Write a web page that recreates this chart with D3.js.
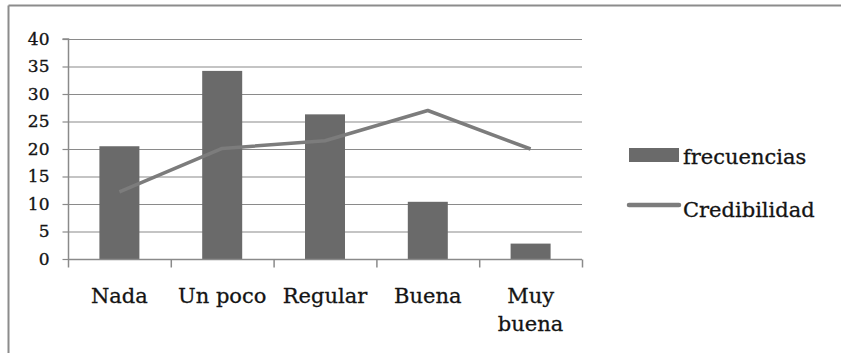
<!DOCTYPE html>
<html><head><meta charset="utf-8">
<script src="https://cdn.jsdelivr.net/npm/d3@7"></script>
<style>body{margin:0;background:#fff}svg{display:block}</style>
</head><body>
<script>
const categories = ["Nada","Un poco","Regular","Buena","Muy buena"];
const frecuencias = [20.5,34.2,26.3,10.4,2.8];
const credibilidad = [12.2,20.1,21.5,27.0,20.0];
const yTicks = [0,5,10,15,20,25,30,35,40];
const seriesNames = ["frecuencias","Credibilidad"];

const W=841,H=353;
const svg=d3.select("body").append("svg").attr("width",W).attr("height",H);
const font="'DejaVu Serif', serif";
const txt="#141414";
// outer frame (top + left)
svg.append("line").attr("x1",8.5).attr("x2",W).attr("y1",5.5).attr("y2",5.5).attr("stroke","#8c8c8c").attr("stroke-width",2);
svg.append("line").attr("x1",8.5).attr("x2",8.5).attr("y1",5.5).attr("y2",H).attr("stroke","#8c8c8c").attr("stroke-width",2);

const L=68,R=582,T=39,B=259;
const x=d3.scaleBand().domain(categories).range([L,R]);
const y=d3.scaleLinear().domain([0,40]).range([B,T]);

// gridlines
svg.append("g").selectAll("line").data(yTicks.filter(d=>d>0)).join("line")
 .attr("x1",L).attr("x2",R).attr("y1",d=>y(d)+0.5).attr("y2",d=>y(d)+0.5)
 .attr("stroke","#8a8a8a").attr("stroke-width",1.2);

// bars
const bw=40;
svg.append("g").selectAll("rect").data(frecuencias).join("rect")
 .attr("x",(d,i)=>x(categories[i])+x.bandwidth()/2-bw/2).attr("width",bw)
 .attr("y",d=>y(d)).attr("height",d=>B-y(d)).attr("fill","#6a6a6a");

// y axis
const ya=svg.append("g").attr("transform",`translate(${L+0.5},0)`)
 .call(d3.axisLeft(y).tickValues(yTicks).tickSize(6).tickPadding(13));
ya.select(".domain").attr("stroke","#8a8a8a").attr("stroke-width",1.5).attr("d",`M-6,${T}H0V${B}`);
ya.selectAll(".tick line").attr("stroke","#8a8a8a").attr("stroke-width",1.2);
ya.selectAll("text").attr("font-family",font).attr("font-size",17).attr("fill",txt)
 .attr("stroke",txt).attr("stroke-width",0.35).attr("text-anchor","end");

// x axis
const xa=svg.append("g").attr("transform",`translate(0,${B+0.5})`);
xa.append("line").attr("x1",L).attr("x2",R).attr("stroke","#8a8a8a").attr("stroke-width",1.5);
const bounds=categories.map(c=>x(c)).concat([R]);
xa.selectAll(".tk").data(bounds).join("line").attr("class","tk")
 .attr("x1",d=>d+0.5).attr("x2",d=>d+0.5).attr("y1",0).attr("y2",8)
 .attr("stroke","#8a8a8a").attr("stroke-width",1.5);
const lbl=svg.append("g");
categories.forEach(c=>{
  const words = c==="Muy buena" ? ["Muy","buena"] : [c];
  words.forEach((w,j)=>{
    lbl.append("text").attr("x",x(c)+x.bandwidth()/2).attr("y",303+j*28)
     .attr("text-anchor","middle").attr("font-family",font).attr("font-size",21)
     .attr("fill",txt).attr("stroke",txt).attr("stroke-width",0.3).text(w);
  });
});

// line
const line=d3.line().x((d,i)=>x(categories[i])+x.bandwidth()/2).y(d=>y(d));
svg.append("path").datum(credibilidad).attr("d",line).attr("fill","none")
 .attr("stroke","#7c7c7c").attr("stroke-width",3.5).attr("stroke-linejoin","round");

// legend
const lg=svg.append("g");
lg.append("rect").attr("x",629).attr("y",148).attr("width",50).attr("height",14).attr("fill","#6a6a6a");
lg.append("line").attr("x1",629).attr("x2",679).attr("y1",205).attr("y2",205)
 .attr("stroke","#7c7c7c").attr("stroke-width",4.5).attr("stroke-linecap","round");
lg.append("text").attr("x",683).attr("y",164).attr("font-family",font).attr("font-size",21).attr("fill",txt)
 .attr("stroke",txt).attr("stroke-width",0.3).text(seriesNames[0]);
lg.append("text").attr("x",683).attr("y",217).attr("font-family",font).attr("font-size",21).attr("fill",txt)
 .attr("stroke",txt).attr("stroke-width",0.3).text(seriesNames[1]);
</script>
</body></html>
